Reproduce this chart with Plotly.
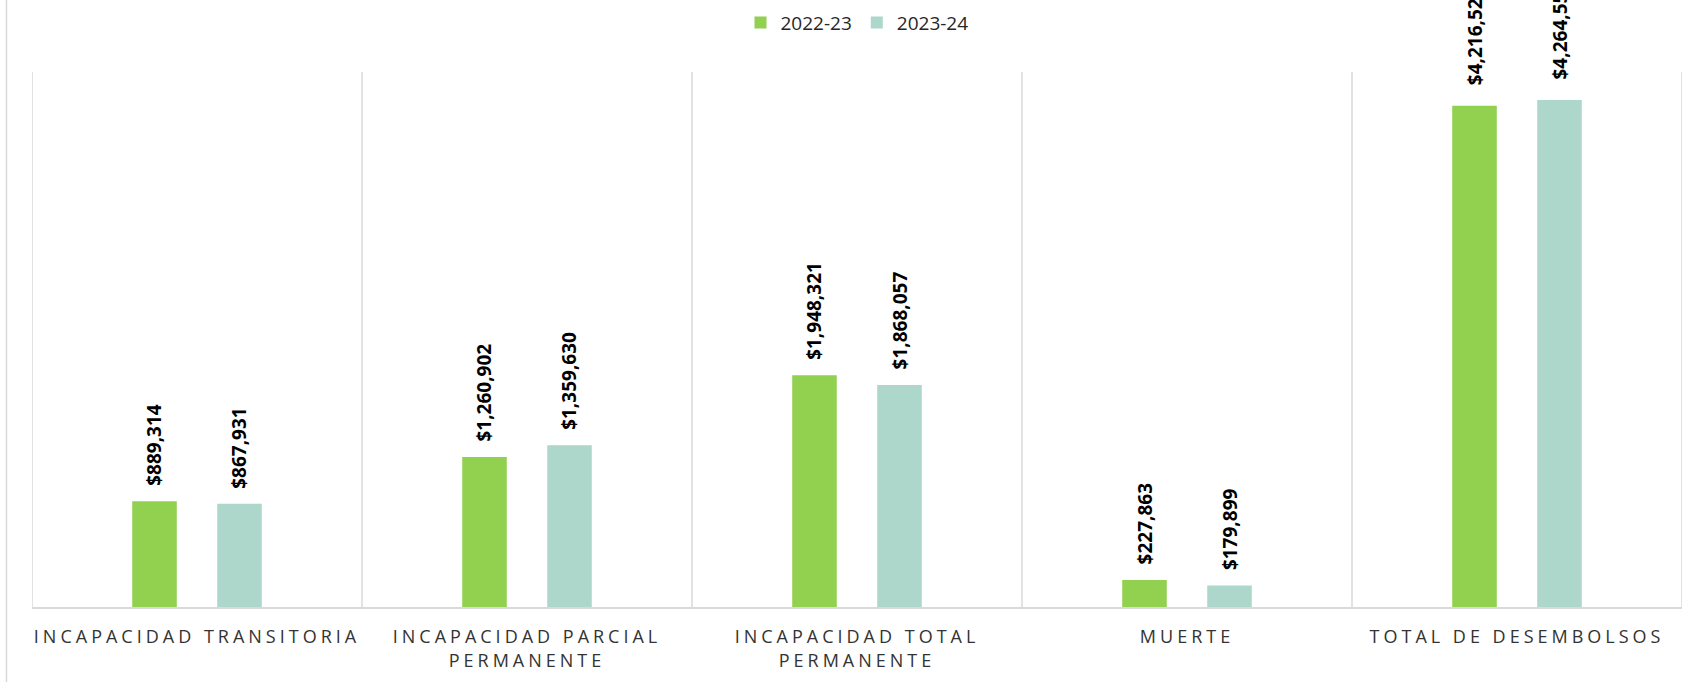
import plotly.graph_objects as go

categories = [
    "INCAPACIDAD TRANSITORIA",
    "INCAPACIDAD PARCIAL<br>PERMANENTE",
    "INCAPACIDAD TOTAL<br>PERMANENTE",
    "MUERTE",
    "TOTAL DE DESEMBOLSOS",
]
series_names = ["2022-23", "2023-24"]
values_2022 = [889314, 1260902, 1948321, 227863, 4216525]
values_2023 = [867931, 1359630, 1868057, 179899, 4264550]

colors = ["#92D050", "#ADD7CB"]
W, H = 1690, 682
ML, MR, MT, MB = 32, 8, 72, 75
plot_w = W - ML - MR
plot_h = H - MT - MB

bar_w = 0.135
half_sep = 42.5 / (plot_w / len(categories))  # category units
offsets = [-half_sep - bar_w / 2, half_sep - bar_w / 2]

fig = go.Figure()
for name, vals, col, off in zip(series_names, [values_2022, values_2023], colors, offsets):
    fig.add_trace(go.Bar(
        name=name, x=categories, y=vals, marker=dict(color=col, line=dict(width=0)),
        width=bar_w, offset=off, hoverinfo="skip",
    ))

annotations = []
for vals, xs in zip([values_2022, values_2023], [-42.5, 42.5]):
    for i, (c, v) in enumerate(zip(categories, vals)):
        annotations.append(dict(
            x=c, y=v, xref="x", yref="y", text=f"${v:,.0f}", showarrow=False,
            textangle=-90, xanchor="center", yanchor="bottom",
            xshift=xs, yshift=13 + (5 if i == len(categories) - 1 else 0),
            font=dict(family="Open Sans", size=19, color="#000000", weight="bold"),
        ))

shapes = []
for i in range(len(categories) + 1):
    shapes.append(dict(type="line", xref="x", yref="paper", x0=i - 0.5, x1=i - 0.5,
                       y0=0, y1=1, line=dict(color="#D9D9D9", width=1.5), layer="below"))
# outer chart-area border (left)
bx = (6.5 - ML) / plot_w
shapes.append(dict(type="line", xref="paper", yref="paper", x0=bx, x1=bx,
                   y0=-MB / plot_h, y1=1 + MT / plot_h,
                   line=dict(color="#D9D9D9", width=1.5)))

fig.update_layout(
    width=W, height=H,
    margin=dict(l=ML, r=MR, t=MT, b=MB, pad=0, autoexpand=False),
    paper_bgcolor="white", plot_bgcolor="white",
    barmode="overlay",
    showlegend=True,
    legend=dict(orientation="h", x=0.5, xanchor="center", y=1 + (MT - 22.6) / plot_h,
                yanchor="middle", font=dict(family="Open Sans", size=19, color="#262626"),
                itemclick=False, traceorder="normal"),
    xaxis=dict(type="category", range=[-0.5, len(categories) - 0.5], showgrid=False,
               showline=True, linecolor="#D9D9D9", linewidth=1.5, ticks="",
               tickfont=dict(family="Open Sans", size=18, color="#333333"),
               ticklabelstandoff=13, automargin=False, fixedrange=True),
    yaxis=dict(range=[0, 4500000], visible=False, showgrid=False, zeroline=False,
               fixedrange=True),
    annotations=annotations,
    shapes=shapes,
)

post = (
    "document.body.style.margin='0';"
    "document.body.style.padding='0';"
    "var s=document.createElement('style');"
    "s.textContent='.xtick text{letter-spacing:4px;}';"
    "document.head.appendChild(s);"
)
fig.write_html("out.html", post_script=post, config={"displayModeBar": False})
